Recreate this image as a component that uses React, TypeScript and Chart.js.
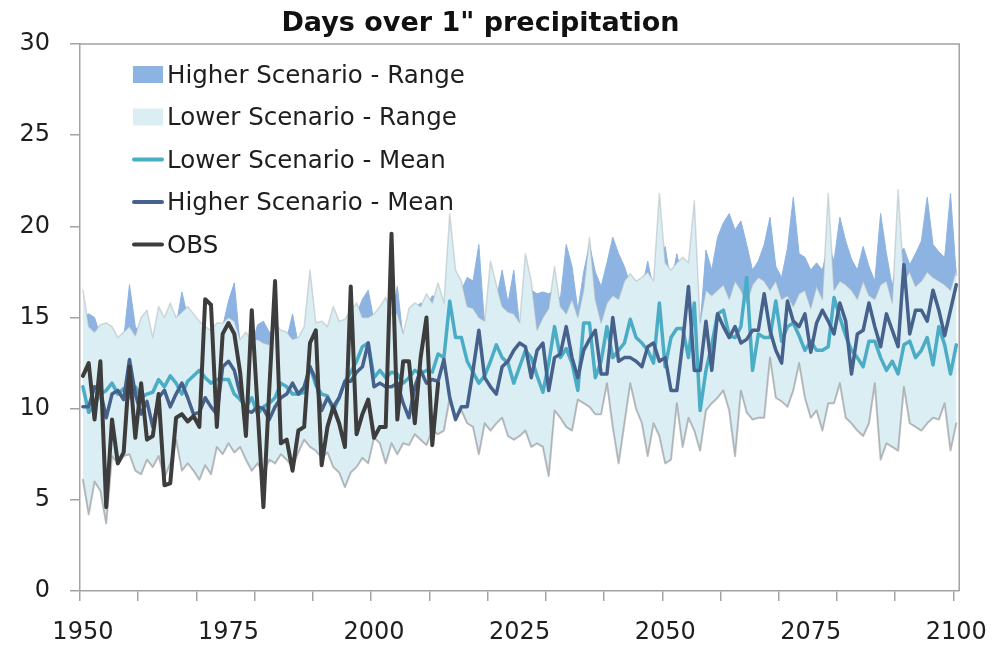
import React, { useEffect, useRef } from 'react';
import { Chart, registerables } from 'chart.js';

Chart.register(...registerables);

// ---- categories ----
const years: number[] = Array.from({ length: 151 }, (_, i) => 1950 + i);
const xLabelYears = [1950, 1975, 2000, 2025, 2050, 2075, 2100];
const xTickMarks = [1949.5, 1959.5, 1969.5, 1979.5, 1989.5, 1999.5, 2009.5, 2019.5, 2029.5, 2039.5, 2049.5, 2059.5, 2069.5, 2079.5, 2089.5, 2099.5];
const yTicks = [0, 5, 10, 15, 20, 25, 30];

// ---- series (1950..2100) ----
const lowerRangeLow = [
  6.1, 4.2, 6.0, 5.5, 3.7, 7.4, 7.0, 7.4, 7.5, 6.6,
  6.4, 7.2, 6.8, 7.4, 6.2, 7.0, 8.3, 6.6, 7.0, 6.6,
  6.1, 6.9, 6.4, 7.9, 7.5, 8.1, 7.6, 7.9, 7.2, 6.6,
  7.0, 6.4, 7.2, 7.0, 7.5, 7.2, 6.8, 7.6, 8.3, 7.9,
  7.7, 7.3, 7.6, 6.8, 6.5, 5.7, 6.5, 6.8, 7.3, 7.0,
  8.4, 8.1, 7.0, 8.1, 7.5, 8.1, 8.0, 8.6, 8.3, 8.0,
  8.8, 8.6, 8.8, 10.6, 9.6, 9.9, 9.2, 9.0, 7.5, 9.2,
  8.8, 9.2, 9.5, 8.5, 8.3, 8.5, 8.8, 7.9, 8.1, 7.9,
  6.3, 9.9, 9.5, 9.0, 8.8, 10.5, 10.3, 10.1, 9.7, 9.7,
  11.4, 9.0, 7.0, 9.2, 11.4, 10.0, 9.2, 7.4, 9.2, 8.5,
  7.0, 7.2, 10.3, 7.9, 9.5, 8.8, 7.7, 9.9, 10.3, 10.6,
  11.0, 9.9, 7.4, 11.0, 9.8, 9.4, 9.5, 9.5, 12.8, 10.6,
  10.4, 10.1, 11.0, 12.5, 10.6, 9.5, 9.9, 8.8, 10.3, 10.3,
  11.4, 9.5, 9.2, 8.8, 8.5, 9.2, 11.4, 7.2, 8.1, 7.9,
  7.7, 11.2, 9.2, 9.0, 8.8, 9.2, 9.5, 9.4, 10.3, 7.7,
  9.2,
];

const lowerRangeHigh = [
  16.5, 14.5, 14.2, 14.6, 14.7, 14.5, 13.9, 14.2, 14.5, 14.0,
  15.0, 15.4, 13.9, 15.6, 15.0, 15.8, 15.0, 15.3, 15.6, 15.2,
  14.8, 14.5, 14.3, 14.7, 14.7, 15.0, 14.8, 13.8, 14.2, 13.7,
  13.8, 13.6, 13.5, 14.7, 14.3, 14.2, 13.8, 13.9, 14.5, 17.6,
  14.7, 14.8, 14.5, 15.6, 14.8, 14.9, 15.4, 15.8, 15.0, 15.0,
  15.2, 15.6, 16.1, 15.2, 15.2, 14.1, 15.5, 15.8, 15.6, 16.3,
  15.8, 16.9, 15.8, 20.7, 17.6, 17.0, 15.6, 15.5, 15.0, 14.8,
  18.1, 16.8, 15.6, 15.3, 15.2, 14.7, 18.5, 17.0, 14.3, 15.0,
  15.5, 17.8, 15.6, 15.2, 16.0, 15.0, 16.5, 19.4, 16.0, 14.7,
  15.8, 16.2, 16.0, 17.0, 17.4, 17.0, 17.2, 17.5, 17.0, 21.8,
  18.0, 17.6, 18.0, 18.3, 18.0, 21.4, 14.7, 16.5, 16.2, 16.5,
  16.8, 16.0, 17.0, 16.5, 15.8, 16.8, 17.2, 17.0, 16.5, 17.0,
  16.0, 16.2, 15.6, 16.3, 16.5, 15.5, 16.7, 16.0, 21.8, 16.5,
  17.0, 16.8, 16.5, 16.0, 17.0, 16.2, 16.0, 16.8, 17.0, 15.8,
  22.0, 17.0, 17.5, 16.7, 17.0, 17.5, 17.2, 17.0, 16.8, 16.5,
  17.6,
];

const higherRangeHigh = [
  15.0, 15.2, 15.0, 14.0, 14.0, 14.0, 13.5, 13.8, 16.8, 14.5,
  14.0, 14.5, 13.5, 14.5, 14.8, 15.0, 14.5, 16.4, 15.0, 14.6,
  14.2, 14.0, 13.8, 14.2, 14.5, 15.9, 16.9, 13.5, 13.8, 13.5,
  14.6, 14.8, 14.2, 14.2, 14.0, 13.8, 15.2, 13.5, 14.2, 15.0,
  14.0, 14.4, 14.0, 15.0, 14.6, 14.6, 15.0, 15.2, 16.0, 16.5,
  14.8, 15.0, 15.5, 15.0, 16.7, 13.8, 15.0, 15.5, 15.8, 15.5,
  16.2, 16.0, 15.3, 16.5, 16.0, 16.5, 17.2, 17.0, 19.0, 14.5,
  16.5, 16.0, 17.6, 15.8, 17.6, 14.5, 16.8, 16.5, 16.3, 16.4,
  16.3, 16.5, 16.0, 19.0, 17.8, 15.4, 17.5, 19.0, 17.5, 16.7,
  18.0, 19.4, 18.5, 17.8, 16.8, 16.8, 16.5, 18.1, 16.5, 17.5,
  18.9, 16.8, 18.5, 17.0, 17.5, 18.0, 14.5, 18.7, 17.6, 19.4,
  20.2, 20.7, 19.8, 20.3, 19.0, 17.6, 18.1, 19.0, 20.5, 17.8,
  17.2, 18.8, 21.6, 18.5, 18.3, 17.6, 18.0, 17.6, 19.0, 18.1,
  20.5, 19.2, 18.2, 17.6, 18.9, 17.8, 17.0, 20.7, 18.5, 16.7,
  18.5, 18.8, 17.9, 18.5, 19.2, 21.6, 19.0, 18.6, 18.3, 21.8,
  17.3,
];

const lowerMean = [
  11.2, 9.8, 10.2, 10.8, 11.0, 11.4, 10.8, 11.1, 10.6, 11.2,
  10.6, 10.8, 10.9, 11.6, 11.2, 11.8, 11.4, 10.8, 11.5, 11.8,
  12.1, 11.7, 11.4, 11.6, 11.6, 11.6, 10.8, 10.5, 10.1, 10.6,
  9.7, 10.1, 10.3, 10.6, 11.4, 11.2, 10.8, 10.8, 10.9, 12.3,
  11.3, 10.8, 10.7, 9.9, 10.6, 11.5, 12.0, 12.6, 13.4, 13.6,
  11.7, 12.1, 11.7, 12.0, 11.9, 11.4, 11.7, 12.1, 11.9, 12.1,
  12.0, 13.0, 12.8, 15.9, 13.9, 13.9, 12.6, 12.0, 11.4, 11.8,
  12.6, 13.5, 12.8, 12.5, 11.4, 12.3, 13.2, 12.8, 11.8, 10.9,
  12.5, 14.5, 12.8, 13.3, 12.5, 11.0, 14.7, 14.7, 11.7, 12.6,
  14.5, 12.8, 13.2, 13.6, 14.9, 13.9, 13.6, 13.2, 12.5, 15.8,
  12.3, 13.9, 14.4, 14.4, 12.8, 15.8, 9.9, 12.1, 13.5, 15.2,
  15.4, 14.0, 13.9, 14.5, 17.2, 12.1, 14.1, 13.9, 13.9, 15.9,
  13.7, 14.5, 14.7, 14.0, 13.2, 13.7, 13.2, 13.2, 13.4, 16.1,
  15.0, 14.0, 13.2, 12.8, 12.3, 13.7, 13.7, 12.8, 12.1, 12.6,
  11.9, 13.5, 13.7, 12.8, 13.2, 13.9, 12.4, 14.5, 13.5, 11.9,
  13.5,
];

const higherMean = [
  10.1, 10.1, 11.2, 11.0, 9.5, 10.8, 11.0, 10.5, 12.7, 10.8,
  9.7, 10.4, 9.0, 10.6, 11.0, 10.1, 10.8, 11.4, 10.6, 9.7,
  9.8, 10.6, 10.1, 9.7, 12.3, 12.6, 12.1, 10.8, 9.9, 9.8,
  10.1, 10.0, 9.4, 10.1, 10.6, 10.8, 11.4, 10.8, 11.2, 12.3,
  11.6, 9.9, 10.6, 10.1, 10.6, 11.5, 11.5, 12.0, 12.3, 13.6,
  11.2, 11.4, 11.2, 11.2, 11.4, 10.3, 9.5, 11.2, 12.1, 11.4,
  11.6, 11.5, 12.7, 10.6, 9.4, 10.1, 10.1, 12.1, 14.3, 11.7,
  11.2, 10.8, 12.3, 12.6, 13.2, 13.6, 13.4, 11.7, 13.2, 13.6,
  11.0, 12.8, 13.0, 14.5, 12.8, 11.7, 13.2, 13.8, 14.3, 11.9,
  11.9, 15.0, 12.6, 12.8, 12.8, 12.6, 12.3, 13.4, 13.6, 12.6,
  12.8, 11.0, 11.0, 13.6, 16.7, 12.1, 12.1, 14.8, 12.1, 15.2,
  14.5, 13.9, 14.5, 13.6, 13.8, 14.3, 14.3, 16.3, 14.3, 13.2,
  12.5, 15.9, 14.8, 14.5, 15.2, 13.1, 14.7, 15.4, 14.8, 14.1,
  15.8, 14.8, 11.9, 14.1, 14.3, 15.8, 14.5, 13.4, 15.2, 14.3,
  13.4, 17.9, 14.1, 15.4, 15.4, 14.8, 16.5, 15.4, 14.0, 15.4,
  16.8,
];

// observations 1950..2011
const obs = [
  11.8, 12.5, 9.4, 12.6, 4.6, 9.4, 7.0, 7.6, 12.3, 8.4,
  11.4, 8.3, 8.5, 10.8, 5.8, 5.9, 9.5, 9.7, 9.3, 9.6,
  9.0, 16.0, 15.7, 9.0, 14.1, 14.7, 14.1, 12.0, 8.5, 15.4,
  10.0, 4.6, 11.0, 17.0, 8.1, 8.3, 6.6, 8.8, 9.0, 13.6,
  14.3, 6.9, 9.0, 10.1, 9.2, 7.9, 16.7, 8.6, 9.7, 10.5,
  8.4, 9.0, 9.0, 19.6, 9.4, 12.6, 12.6, 9.2, 12.8, 15.0,
  8.0, 11.4,
];

const legendLabels = [
  'Higher Scenario - Range',
  'Lower Scenario - Range',
  'Lower Scenario - Mean',
  'Higher Scenario - Mean',
  'OBS',
];

const COLORS = {
  hiRange: '#8db3e2',
  loRange: '#dbeef4',
  loMean: '#4bacc6',
  hiMean: '#46628c',
  obs: '#3d3d3d',
  axis: '#a3a3a3',
  text: '#1e1e1e',
};

const FONT = "'DejaVu Sans', sans-serif";

const framePlugin = {
  id: 'frameAndLegend',
  afterDatasetsDraw(chart: any) {
    const { ctx, chartArea } = chart;
    ctx.save();
    // top & right frame
    ctx.strokeStyle = COLORS.axis;
    ctx.lineWidth = 1.5;
    ctx.beginPath();
    ctx.moveTo(chartArea.left, chartArea.top);
    ctx.lineTo(chartArea.right, chartArea.top);
    ctx.lineTo(chartArea.right, chartArea.bottom);
    ctx.stroke();

    // legend
    const sx = 133;
    const sw = 30;
    const tx = 167;
    const centers = [74.5, 117, 159.5, 202, 244.5];
    const kinds = ['box', 'box', 'line', 'line', 'line'];
    const cols = [COLORS.hiRange, COLORS.loRange, COLORS.loMean, COLORS.hiMean, COLORS.obs];
    ctx.font = `24.5px ${FONT}`;
    ctx.textBaseline = 'middle';
    ctx.textAlign = 'left';
    legendLabels.forEach((lab, i) => {
      const cy = centers[i];
      if (kinds[i] === 'box') {
        ctx.fillStyle = cols[i];
        ctx.fillRect(sx, cy - 8.5, sw, 17);
      } else {
        ctx.strokeStyle = cols[i];
        ctx.lineWidth = 4;
        ctx.lineCap = 'round';
        ctx.beginPath();
        ctx.moveTo(sx + 1, cy);
        ctx.lineTo(sx + sw - 1, cy);
        ctx.stroke();
      }
      ctx.fillStyle = COLORS.text;
      ctx.fillText(lab, tx, cy + 2);
    });
    ctx.restore();
  },
};

export default function App() {
  const canvasRef = useRef<HTMLCanvasElement | null>(null);

  useEffect(() => {
    if (!canvasRef.current) return;
    Chart.defaults.font.family = FONT;
    const lineBase = {
      pointRadius: 0,
      pointHoverRadius: 0,
      tension: 0,
      borderJoinStyle: 'round' as const,
      borderCapStyle: 'round' as const,
    };
    const chart = new Chart(canvasRef.current, {
      type: 'line',
      data: {
        labels: years,
        datasets: [
          {
            ...lineBase,
            label: 'Lower Scenario - Range (bottom)',
            data: lowerRangeLow,
            borderColor: 'rgba(140,140,140,0.55)',
            borderWidth: 2,
            fill: false,
            order: 8,
          },
          {
            ...lineBase,
            label: 'Higher Scenario - Range',
            data: higherRangeHigh,
            borderColor: COLORS.hiRange,
            borderWidth: 1,
            backgroundColor: COLORS.hiRange,
            fill: { target: 0 },
            order: 10,
          },
          {
            ...lineBase,
            label: 'Lower Scenario - Range',
            data: lowerRangeHigh,
            borderColor: 'rgba(165,175,180,0.45)',
            borderWidth: 1.5,
            backgroundColor: COLORS.loRange,
            fill: { target: 0 },
            order: 9,
          },
          {
            ...lineBase,
            label: 'Lower Scenario - Mean',
            data: lowerMean,
            borderColor: COLORS.loMean,
            borderWidth: 3.5,
            fill: false,
            order: 3,
          },
          {
            ...lineBase,
            label: 'Higher Scenario - Mean',
            data: higherMean,
            borderColor: COLORS.hiMean,
            borderWidth: 3.5,
            fill: false,
            order: 2,
          },
          {
            ...lineBase,
            label: 'OBS',
            data: obs,
            borderColor: COLORS.obs,
            borderWidth: 4,
            fill: false,
            order: 1,
          },
        ],
      },
      options: {
        animation: false,
        responsive: false,
        events: [],
        layout: { padding: { left: 0, right: 43, top: 0, bottom: 0 } },
        plugins: {
          legend: { display: false },
          tooltip: { enabled: false },
          title: {
            display: true,
            text: 'Days over 1" precipitation',
            color: '#111',
            font: { size: 27, weight: 'bold', family: FONT },
            padding: { top: 8, bottom: 3.6 },
          },
        },
        scales: {
          x: {
            type: 'linear',
            min: 1949.5,
            max: 2100.5,
            afterBuildTicks: (scale: any) => {
              const vals = [...xTickMarks, ...xLabelYears].sort((a, b) => a - b);
              scale.ticks = vals.map((v) => ({ value: v }));
            },
            afterFit: (scale: any) => {
              scale.height = 58;
            },
            grid: {
              drawOnChartArea: false,
              drawTicks: true,
              tickLength: 10,
              lineWidth: 1.5,
              color: (ctx: any) =>
                ctx.tick && xTickMarks.includes(ctx.tick.value) ? COLORS.axis : 'rgba(0,0,0,0)',
            },
            border: { display: true, color: COLORS.axis, width: 1.5 },
            ticks: {
              autoSkip: false,
              maxRotation: 0,
              padding: 17,
              color: COLORS.text,
              font: { size: 24, family: FONT },
              callback: (v: any) => (xLabelYears.includes(Number(v)) ? String(v) : ''),
            },
          },
          y: {
            min: 0,
            max: 30,
            afterBuildTicks: (scale: any) => {
              scale.ticks = yTicks.map((v) => ({ value: v }));
            },
            afterFit: (scale: any) => {
              scale.width = 80;
            },
            grid: {
              drawOnChartArea: false,
              drawTicks: true,
              tickLength: 10,
              lineWidth: 1.5,
              color: COLORS.axis,
            },
            border: { display: true, color: COLORS.axis, width: 1.5 },
            ticks: {
              padding: 20,
              color: COLORS.text,
              font: { size: 24, family: FONT },
            },
          },
        },
      },
      plugins: [framePlugin],
    } as any);
    return () => chart.destroy();
  }, []);

  return (
    <div style={{ position: 'fixed', left: 0, top: 0, width: 1004, height: 649, background: '#fff' }}>
      <canvas ref={canvasRef} width={1004} height={649} style={{ display: 'block', width: 1004, height: 649 }} />
    </div>
  );
}
